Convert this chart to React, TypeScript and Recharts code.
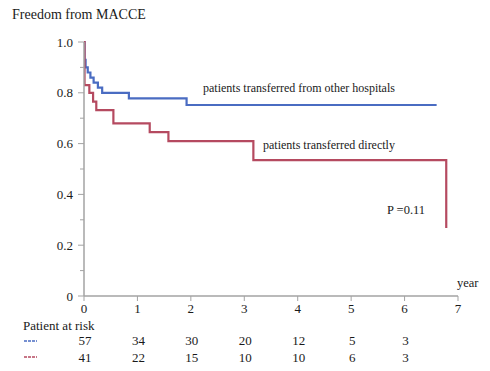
import { LineChart, Line, XAxis, YAxis } from "recharts";

const W = 490;
const H = 371;
const PLOT_LEFT = 84;
const PLOT_RIGHT = 458;
const PLOT_TOP = 42;
const PLOT_BOTTOM = 296;
const AXIS_COLOR = "#a3a3a3";
const BLUE = "#4a6cc2";
const RED = "#b54a60";
const FONT = "'Liberation Serif', 'DejaVu Serif', serif";

// Kaplan-Meier step points (year, survival)
const otherHospitalsTime = [0, 0.01, 0.03, 0.07, 0.12, 0.18, 0.26, 0.34, 0.84, 1.92, 6.6];
const otherHospitalsSurv = [1.0, 0.93, 0.9, 0.88, 0.86, 0.84, 0.82, 0.8, 0.778, 0.752, 0.752];
const directTime = [0, 0.01, 0.1, 0.17, 0.23, 0.55, 1.23, 1.58, 3.17, 6.78, 6.78];
const directSurv = [1.0, 0.83, 0.8, 0.765, 0.732, 0.68, 0.645, 0.61, 0.535, 0.535, 0.268];

const xTicks = [0, 1, 2, 3, 4, 5, 6, 7];
const yTicks = [0, 0.1, 0.2, 0.3, 0.4, 0.5, 0.6, 0.7, 0.8, 0.9, 1.0];

const riskYears = [0, 1, 2, 3, 4, 5, 6];
const riskOther = [57, 34, 30, 20, 12, 5, 3];
const riskDirect = [41, 22, 15, 10, 10, 6, 3];

const otherData = otherHospitalsTime.map((t, i) => ({ t, s: otherHospitalsSurv[i] }));
const directData = directTime.map((t, i) => ({ t, s: directSurv[i] }));

const YTick = (props: any) => {
  const { y, payload } = props;
  const v = payload.value as number;
  const major = Math.round(v * 10) % 2 === 0;
  return (
    <g>
      <line x1={PLOT_LEFT} x2={PLOT_LEFT - (major ? 6 : 4)} y1={y} y2={y} stroke={AXIS_COLOR} strokeWidth={1} />
      {major && (
        <text x={PLOT_LEFT - 11} y={y} dy={4.5} textAnchor="end" fontSize={13} fontFamily={FONT} fill="#1a1a1a">
          {v === 0 ? "0" : v.toFixed(1)}
        </text>
      )}
    </g>
  );
};

const XTick = (props: any) => {
  const { x, payload } = props;
  return (
    <g>
      <line x1={x} x2={x} y1={PLOT_BOTTOM} y2={PLOT_BOTTOM + 5} stroke={AXIS_COLOR} strokeWidth={1} />
      <text x={x} y={PLOT_BOTTOM + 17} textAnchor="middle" fontSize={13} fontFamily={FONT} fill="#1a1a1a">
        {payload.value}
      </text>
    </g>
  );
};

export default function App() {
  const unit = (PLOT_RIGHT - PLOT_LEFT) / 7;
  const txt = { fontFamily: FONT, fill: "#1a1a1a" };
  return (
    <div style={{ position: "absolute", left: 0, top: 0, width: W, height: H, background: "#fff" }}>
      <LineChart
        width={W}
        height={H}
        margin={{ top: PLOT_TOP, right: W - PLOT_RIGHT, bottom: 55, left: PLOT_LEFT - 40 }}
      >
        <XAxis
          type="number"
          dataKey="t"
          domain={[0, 7]}
          ticks={xTicks}
          height={H - 55 - PLOT_BOTTOM}
          tickLine={false}
          tick={<XTick />}
          stroke={AXIS_COLOR}
          strokeWidth={1.5}
          allowDataOverflow
        />
        <YAxis
          type="number"
          dataKey="s"
          domain={[0, 1]}
          ticks={yTicks}
          width={40}
          tickLine={false}
          tick={<YTick />}
          stroke={AXIS_COLOR}
          strokeWidth={1.5}
          interval={0}
        />
        <Line data={otherData} type="stepAfter" dataKey="s" stroke={BLUE} strokeWidth={2.2} dot={false} isAnimationActive={false} />
        <Line data={directData} type="stepAfter" dataKey="s" stroke={RED} strokeWidth={2.2} dot={false} isAnimationActive={false} />
      </LineChart>
      <svg width={W} height={H} style={{ position: "absolute", left: 0, top: 0, pointerEvents: "none" }}>
        <text x={12} y={19} fontSize={14} {...txt}>Freedom from MACCE</text>
        <text x={203} y={92} fontSize={12} {...txt}>patients transferred from other hospitals</text>
        <text x={263} y={149} fontSize={12} {...txt}>patients transferred directly</text>
        <text x={387} y={214} fontSize={12.5} {...txt}>P =0.11</text>
        <text x={457} y={287} fontSize={12.5} {...txt}>year</text>
        <text x={23} y={330} fontSize={13} {...txt}>Patient at risk</text>
        <line x1={24} x2={37} y1={341} y2={341} stroke={BLUE} strokeWidth={1.3} strokeDasharray="3 1" />
        <line x1={24} x2={37} y1={357} y2={357} stroke={RED} strokeWidth={1.3} strokeDasharray="3 1" />
        {riskYears.map((t, i) => (
          <text key={"o" + t} x={PLOT_LEFT + t * unit + 1} y={345} textAnchor="middle" fontSize={13} {...txt}>
            {riskOther[i]}
          </text>
        ))}
        {riskYears.map((t, i) => (
          <text key={"d" + t} x={PLOT_LEFT + t * unit + 1} y={362} textAnchor="middle" fontSize={13} {...txt}>
            {riskDirect[i]}
          </text>
        ))}
      </svg>
    </div>
  );
}
